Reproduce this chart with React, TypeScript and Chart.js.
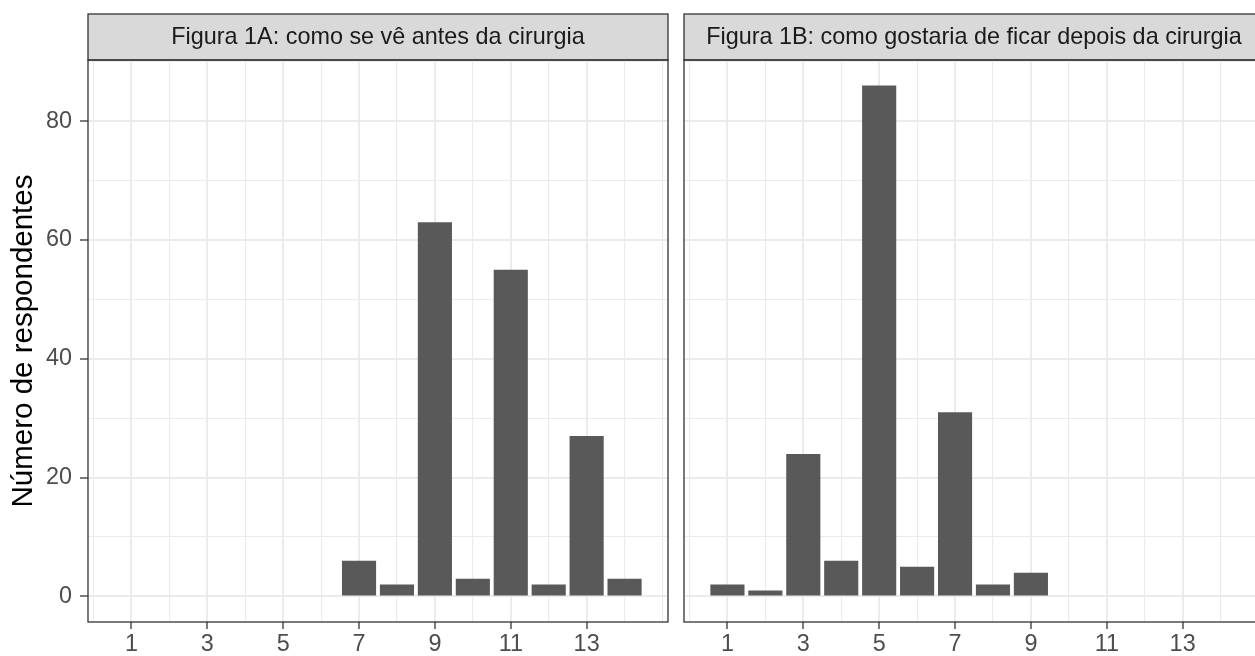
import React, { useEffect, useRef } from 'react';
import { Chart, registerables } from 'chart.js';

Chart.register(...registerables);

// ---- data ----
const panelTitles = [
  'Figura 1A: como se vê antes da cirurgia',
  'Figura 1B: como gostaria de ficar depois da cirurgia',
];
const xBefore = [7, 8, 9, 10, 11, 12, 13, 14];
const countsBefore = [6, 2, 63, 3, 55, 2, 27, 3];
const xAfter = [1, 2, 3, 4, 5, 6, 7, 8, 9];
const countsAfter = [2, 1, 24, 6, 86, 5, 31, 2, 4];
const xTickLabels = [1, 3, 5, 7, 9, 11, 13];
const yTickLabels = [0, 20, 40, 60, 80];
const yTitle = 'Número de respondentes';

// ---- scale limits (ggplot-like expansion) ----
const X_MIN = -0.145;
const X_MAX = 15.145;
const Y_MIN = -4.3;
const Y_MAX = 90.3;

const FONT = '"Liberation Sans", Arial, Helvetica, sans-serif';
const STRIP_TOP = 14;

function panelPlugin(title: string) {
  return {
    id: 'panelDeco',
    afterDraw(chart: any) {
      const { ctx, chartArea: a } = chart;
      ctx.save();
      ctx.fillStyle = '#D9D9D9';
      ctx.fillRect(a.left, STRIP_TOP, a.right - a.left, a.top - STRIP_TOP);
      ctx.strokeStyle = '#333333';
      ctx.lineWidth = 1.3;
      ctx.strokeRect(a.left, STRIP_TOP, a.right - a.left, a.top - STRIP_TOP);
      ctx.strokeRect(a.left, a.top, a.right - a.left, a.bottom - a.top);
      ctx.fillStyle = '#1A1A1A';
      ctx.font = '23.4px ' + FONT;
      ctx.textAlign = 'center';
      ctx.textBaseline = 'middle';
      ctx.fillText(title, (a.left + a.right) / 2, (STRIP_TOP + a.top) / 2 + 1);
      ctx.restore();
    },
  };
}

function makeChart(
  canvas: HTMLCanvasElement,
  xs: number[],
  ys: number[],
  title: string,
  showY: boolean,
  padding: any
) {
  const isMajorX = (v: number) => xTickLabels.includes(v);
  const isMajorY = (v: number) => yTickLabels.includes(v);
  return new Chart(canvas, {
    type: 'bar',
    data: {
      datasets: [
        {
          data: xs.map((x, i) => ({ x, y: ys[i] })),
          backgroundColor: '#595959',
          borderWidth: 0,
          barPercentage: 0.9,
          categoryPercentage: 1.0,
        },
      ],
    },
    options: {
      animation: false,
      responsive: false,
      maintainAspectRatio: false,
      layout: { padding },
      plugins: {
        legend: { display: false },
        tooltip: { enabled: false },
      },
      scales: {
        x: {
          type: 'linear',
          min: X_MIN,
          max: X_MAX,
          offset: false,
          border: { display: false },
          grid: {
            offset: false,
            color: '#EBEBEB',
            lineWidth: (c: any) => (isMajorX(c.tick?.value) ? 2 : 1.1),
            drawTicks: true,
            tickLength: 7,
            tickWidth: 1.3,
            tickColor: (c: any) => (isMajorX(c.tick?.value) ? '#333333' : 'rgba(0,0,0,0)'),
          },
          ticks: {
            stepSize: 1,
            includeBounds: false,
            autoSkip: false,
            maxRotation: 0,
            padding: 2,
            color: '#4D4D4D',
            font: { family: FONT, size: 23.4 },
            callback: (v: any) => (isMajorX(Number(v)) ? String(v) : ''),
          },
          afterFit: (s: any) => {
            s.height = 34;
          },
        },
        y: {
          type: 'linear',
          min: Y_MIN,
          max: Y_MAX,
          border: { display: false },
          grid: {
            offset: false,
            color: '#EBEBEB',
            lineWidth: (c: any) => (isMajorY(c.tick?.value) ? 2 : 1.1),
            drawTicks: showY,
            tickLength: 8,
            tickWidth: 1.3,
            tickColor: (c: any) => (isMajorY(c.tick?.value) ? '#333333' : 'rgba(0,0,0,0)'),
          },
          ticks: {
            display: showY,
            stepSize: 10,
            includeBounds: false,
            autoSkip: false,
            padding: 8,
            color: '#4D4D4D',
            font: { family: FONT, size: 23.4 },
            callback: (v: any) => (isMajorY(Number(v)) ? String(v) : ''),
          },
          title: {
            display: showY,
            text: yTitle,
            color: '#000000',
            font: { family: FONT, size: 29.5 },
            padding: { top: 6, bottom: 0 },
          },
          afterFit: (s: any) => {
            s.width = showY ? 88 : 0;
          },
        },
      },
    },
    plugins: [panelPlugin(title)],
  } as any);
}

export default function App() {
  const leftRef = useRef<HTMLCanvasElement>(null);
  const rightRef = useRef<HTMLCanvasElement>(null);

  useEffect(() => {
    document.body.style.margin = '0';
    document.body.style.background = '#ffffff';
    const c1 = makeChart(leftRef.current!, xBefore, countsBefore, panelTitles[0], true, {
      top: 60,
      right: 8,
      left: 0,
      bottom: 0,
    });
    const c2 = makeChart(rightRef.current!, xAfter, countsAfter, panelTitles[1], false, {
      top: 60,
      right: 12,
      left: 8,
      bottom: 0,
    });
    return () => {
      c1.destroy();
      c2.destroy();
    };
  }, []);

  return (
    <div
      style={{
        position: 'relative',
        width: 1255,
        height: 656,
        overflow: 'hidden',
        background: '#ffffff',
      }}
    >
      <canvas
        ref={leftRef}
        width={676}
        height={656}
        style={{ position: 'absolute', left: 0, top: 0, width: 676, height: 656 }}
      />
      <canvas
        ref={rightRef}
        width={600}
        height={656}
        style={{ position: 'absolute', left: 676, top: 0, width: 600, height: 656 }}
      />
    </div>
  );
}
